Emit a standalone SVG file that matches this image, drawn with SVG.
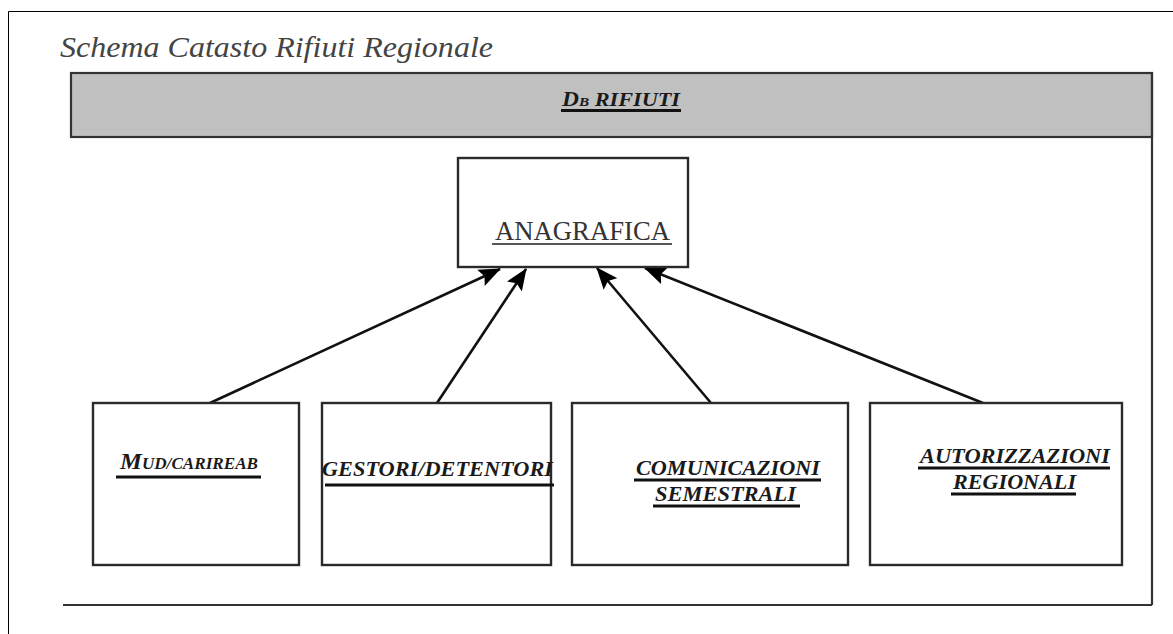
<svg xmlns="http://www.w3.org/2000/svg" width="1173" height="634" viewBox="0 0 1173 634">
<defs>
<style>
.box{fill:#fff;stroke:#2a2a2a;stroke-width:2.4}
.lbl{font-family:"Liberation Serif","Times New Roman",serif;font-weight:bold;font-style:italic;fill:#1a1a1a}
.ul{stroke:#111;stroke-width:3}
.conn{stroke:#111;stroke-width:2.6;fill:none}
</style>
<marker id="arr" viewBox="0 0 22 18" refX="21" refY="9" markerWidth="22" markerHeight="18" orient="auto" markerUnits="userSpaceOnUse">
<path d="M0,0 L22,9 L0,18 L4,9 Z" fill="#000"/>
</marker>
</defs>
<rect x="0" y="0" width="1173" height="634" fill="#fff"/>
<g id="frame">
<line x1="8.5" y1="11.5" x2="1173" y2="11.5" stroke="#000" stroke-width="1"/>
<line x1="8.5" y1="11.5" x2="8.5" y2="634" stroke="#000" stroke-width="1"/>
</g>
<g id="title">
<text x="60" y="57" font-family="'Liberation Serif', 'Times New Roman', serif" font-style="italic" font-size="29" fill="#444" textLength="433" lengthAdjust="spacingAndGlyphs">Schema Catasto Rifiuti Regionale</text>
</g>
<g id="container">
<rect x="71" y="73" width="1081" height="64" fill="#c0c0c0" stroke="#333" stroke-width="2.2"/>
<line x1="1152" y1="73" x2="1152" y2="605" stroke="#333" stroke-width="2.2"/>
<line x1="63" y1="605" x2="1152" y2="605" stroke="#333" stroke-width="2.2"/>
<text class="lbl" x="562" y="106" textLength="118" lengthAdjust="spacingAndGlyphs"><tspan font-size="20">D</tspan><tspan font-size="13">B</tspan><tspan font-size="19"> RIFIUTI</tspan></text>
<line class="ul" x1="561" y1="110.5" x2="681" y2="110.5" stroke-width="2.4"/>
</g>
<g id="connectors">
<line class="conn" x1="210" y1="403" x2="500" y2="269" marker-end="url(#arr)"/>
<line class="conn" x1="437" y1="403" x2="526" y2="269" marker-end="url(#arr)"/>
<line class="conn" x1="711" y1="403" x2="597" y2="268" marker-end="url(#arr)"/>
<line class="conn" x1="983" y1="403" x2="645" y2="268" marker-end="url(#arr)"/>
</g>
<g id="anagrafica">
<rect class="box" x="458" y="158" width="230" height="109"/>
<text x="495" y="240" font-family="'Liberation Serif', 'Times New Roman', serif" font-size="28" fill="#333" textLength="175" lengthAdjust="spacingAndGlyphs">ANAGRAFICA</text>
<line x1="492" y1="244" x2="672" y2="244" stroke="#555" stroke-width="2.2"/>
</g>
<g id="mud">
<rect class="box" x="93" y="403" width="206" height="162"/>
<text class="lbl" x="120" y="469" textLength="138" lengthAdjust="spacingAndGlyphs"><tspan font-size="23">M</tspan><tspan font-size="16">UD/CARIREAB</tspan></text>
<line class="ul" x1="116" y1="477" x2="261" y2="477"/>
</g>
<g id="gestori">
<rect class="box" x="322" y="403" width="229" height="162"/>
<text class="lbl" x="322" y="476" font-size="22" textLength="231" lengthAdjust="spacingAndGlyphs">GESTORI/DETENTORI</text>
<line class="ul" x1="325" y1="485" x2="554" y2="485"/>
</g>
<g id="comunicazioni">
<rect class="box" x="572" y="403" width="276" height="162"/>
<text class="lbl" x="636" y="475" font-size="22" textLength="184" lengthAdjust="spacingAndGlyphs">COMUNICAZIONI</text>
<line class="ul" x1="634" y1="480" x2="821" y2="480"/>
<text class="lbl" x="655" y="501" font-size="22" textLength="141" lengthAdjust="spacingAndGlyphs">SEMESTRALI</text>
<line class="ul" x1="653" y1="506" x2="800" y2="506"/>
</g>
<g id="autorizzazioni">
<rect class="box" x="870" y="403" width="252" height="162"/>
<text class="lbl" x="920" y="463" font-size="22" textLength="190" lengthAdjust="spacingAndGlyphs">AUTORIZZAZIONI</text>
<line class="ul" x1="918" y1="468" x2="1110" y2="468"/>
<text class="lbl" x="953" y="489" font-size="22" textLength="123" lengthAdjust="spacingAndGlyphs">REGIONALI</text>
<line class="ul" x1="951" y1="494" x2="1076" y2="494"/>
</g>
</svg>
